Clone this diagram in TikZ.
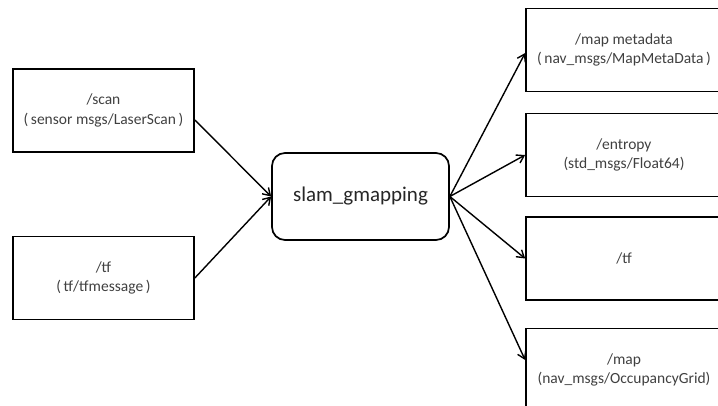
\documentclass[tikz,border=0pt]{standalone}
\usepackage{fontspec}
\setmainfont{Carlito}
\usetikzlibrary{arrows.meta, positioning, calc}

\tikzset{
  topic/.style={draw, line width=1.7pt, minimum width=181pt, minimum height=83pt,
    align=center, text=black!75, font=\fontsize{15.5}{19.5}\selectfont},
  outtopic/.style={topic, minimum width=196pt},
  nodebox/.style={draw, line width=1.7pt, rounded corners=13pt, minimum width=177pt,
    minimum height=87pt, text=black!85, font=\fontsize{21}{25}\selectfont},
  link/.style={->, line width=1.4pt}
}

\begin{document}
\begin{tikzpicture}[x=1pt, y=1pt, >={Straight Barb[length=7pt, width=9pt]}]
      \useasboundingbox (0,0) rectangle (718,405);
      \clip (0,0) rectangle (718,405);

      % inputs
      \node[topic] (scan) at (103.5, 294.5) {/scan\\(\,sensor msgs/LaserScan\,)};
      \node[topic] (tfin) at (103.5, 127) {/tf\\(\,tf/tfmessage\,)};

      \node[nodebox] (slam) at (360.5, 208.5) {slam\_gmapping};

      % outputs
      \node[outtopic] (meta) at (624, 355) {/map metadata\\(\,nav\_msgs/MapMetaData\,)};
      \node[outtopic] (entropy) at (624, 250) {/entropy\\(std\_msgs/Float64)};
      \node[outtopic] (tfout) at (624, 146.5) {/tf};
      \node[outtopic] (map) at (624, 35) {/map\\(nav\_msgs/OccupancyGrid)};

      \draw[link] ([yshift=-9.5pt]scan.east) -- (slam.west);
      \draw[link] (tfin.east) -- (slam.west);

      \draw[link] (slam.east) -- ([yshift=-3pt]meta.west);
      \draw[link] (slam.east) -- (entropy.west);
      \draw[link] (slam.east) -- (tfout.west);
      \draw[link] (slam.east) -- ([yshift=10pt]map.west);
    \end{tikzpicture}
\end{document}
